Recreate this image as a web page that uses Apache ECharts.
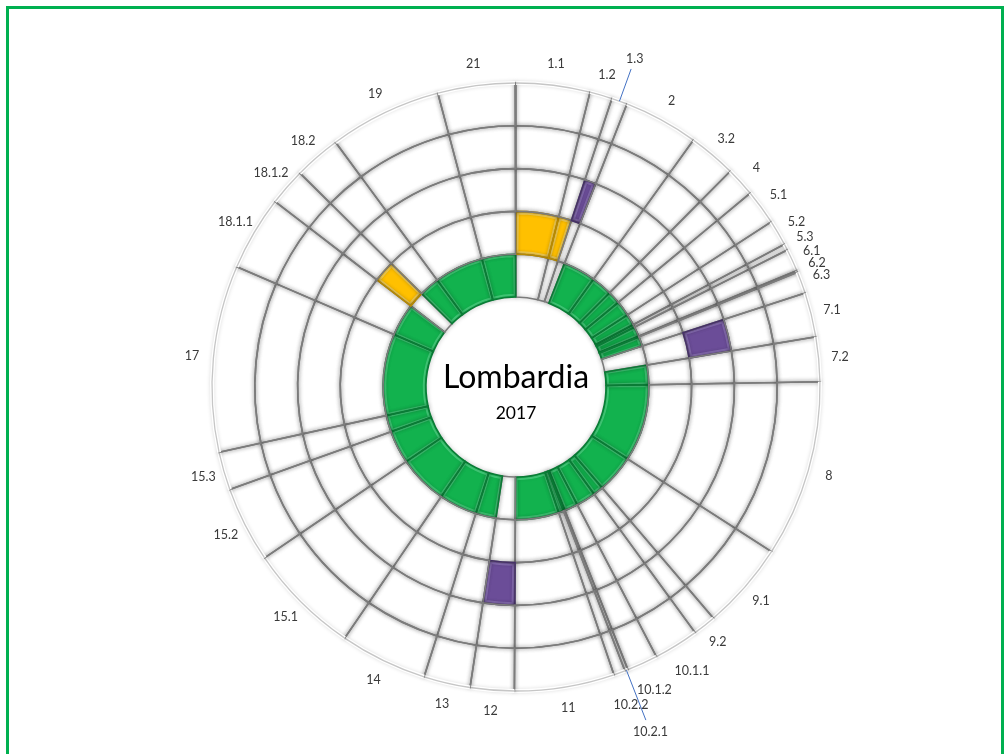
<!DOCTYPE html>
<html>
<head>
<meta charset="utf-8">
<script src="https://cdn.jsdelivr.net/npm/echarts@6/dist/echarts.min.js"></script>
<style>
  html, body { margin: 0; padding: 0; background: #ffffff; }
  #chart { width: 1006px; height: 754px; }
</style>
</head>
<body>
<div id="chart"></div>
<script>
// Sectors of the wheel, clockwise from twelve o'clock
const sectors = ['1.1', '1.2', '1.3', '2', '3.2', '4', '5.1', '5.2', '5.3', '6.1', '6.2', '6.3',
  '7.1', '7.2', '8', '9.1', '9.2', '10.1.1', '10.1.2', '10.2.1', '10.2.2', '11', '12', '13', '14',
  '15.1', '15.2', '15.3', '17', '18.1.1', '18.1.2', '18.2', '19', '21'];

// Angular share of each sector (degrees, summing to 360)
const sectorWidths = [14.1, 4.3, 3.0, 14.3, 9.1, 5.6, 6.7, 4.9, 1.2, 4.3, 0.3, 4.2,
  8.5, 8.5, 33.8, 16.7, 4.4, 8.6, 5.9, 0.6, 2.2, 19.1, 8.4, 8.9, 16.7,
  21.5, 14.5, 7.3, 35.7, 14.3, 7.1, 8.9, 21.5, 14.7];

// Cell state per ring, from the inner ring outwards: 0 empty, 1 green, 2 yellow, 3 purple
const ring1 = [0, 0, 0, 1, 1, 1, 1, 1, 1, 1, 1, 1, 0, 1, 1, 1, 1, 1, 1, 1, 1, 1, 0, 1, 1, 1, 1, 1, 1, 1, 0, 1, 1, 1];
const ring2 = [2, 2, 0, 0, 0, 0, 0, 0, 0, 0, 0, 0, 0, 0, 0, 0, 0, 0, 0, 0, 0, 0, 0, 0, 0, 0, 0, 0, 0, 0, 2, 0, 0, 0];
const ring3 = [0, 0, 3, 0, 0, 0, 0, 0, 0, 0, 0, 0, 3, 0, 0, 0, 0, 0, 0, 0, 0, 0, 3, 0, 0, 0, 0, 0, 0, 0, 0, 0, 0, 0];
const ring4 = [0, 0, 0, 0, 0, 0, 0, 0, 0, 0, 0, 0, 0, 0, 0, 0, 0, 0, 0, 0, 0, 0, 0, 0, 0, 0, 0, 0, 0, 0, 0, 0, 0, 0];
const ring5 = [0, 0, 0, 0, 0, 0, 0, 0, 0, 0, 0, 0, 0, 0, 0, 0, 0, 0, 0, 0, 0, 0, 0, 0, 0, 0, 0, 0, 0, 0, 0, 0, 0, 0];

const centerTitle = 'Lombardia';
const centerYear = '2017';

// ---- styling ----
const FILL = ['#ffffff', '#12B24E', '#FFC000', '#6B4D98'];
const LIGHT = [null, '#4FD585', '#FFDD6E', '#9479C0'];
const DARK = ['#7c7c7c', '#0A7C36', '#B88A00', '#463168'];
const RING_COUNT = 5;
const LABEL_R = 5.5;            // label distance in ring units
const labelRadius = { '1.3': 6.05, '10.1.1': 5.7, '10.1.2': 5.68, '10.2.2': 5.79, '10.2.1': 6.55 };
const leaders = { '1.3': [5.0, 5.8], '10.2.1': [5.0, 6.25] };

// ---- layout derived from the widths ----
const starts = [];
let acc = 0;
sectorWidths.forEach(w => { starts.push(acc); acc += w; });
const rings = [ring1, ring2, ring3, ring4, ring5];
const cells = [];
rings.forEach((ring, r) => {
  ring.forEach((state, i) => cells.push([r, starts[i], starts[i] + sectorWidths[i], state]));
});
const labelData = sectors.map((name, i) => [i, starts[i] + sectorWidths[i] / 2]);

function sectorShape(params, api, r0v, r1v, a0, a1) {
  const p0 = api.coord([r0v, a0]);
  const p1 = api.coord([r1v, a1]);
  return {
    cx: params.coordSys.cx, cy: params.coordSys.cy,
    r0: p0[2], r: p1[2],
    startAngle: -p0[3], endAngle: -p1[3], clockwise: true
  };
}

const chart = echarts.init(document.getElementById('chart'), null, { renderer: 'canvas' });

chart.setOption({
  backgroundColor: '#ffffff',
  animation: false,
  polar: { center: [516, 387], radius: [90, 90 + 7 * 42.8] },
  angleAxis: { type: 'value', min: 0, max: 360, startAngle: 90, clockwise: true, show: false },
  radiusAxis: { type: 'value', min: 0, max: 7, show: false },
  graphic: [
    { type: 'rect', left: 5, top: 5, shape: { x: 0, y: 0, width: 995, height: 800 },
      style: { fill: 'none', stroke: '#00B050', lineWidth: 3 }, silent: true },
    { type: 'text', x: 516, y: 378, z: 10,
      style: { text: centerTitle, fill: '#000000', font: '32px Lato', align: 'center', verticalAlign: 'middle' } },
    { type: 'text', x: 516, y: 413, z: 10,
      style: { text: centerYear, fill: '#000000', font: '17.5px Lato', align: 'center', verticalAlign: 'middle' } }
  ],
  series: [
    {
      // cell fills
      type: 'custom', coordinateSystem: 'polar', data: cells, z: 1,
      renderItem(params, api) {
        const r = api.value(0), a0 = api.value(1), a1 = api.value(2), s = api.value(3);
        const children = [{
          type: 'sector', shape: sectorShape(params, api, r, r + 1, a0, a1),
          style: { fill: FILL[s], stroke: null }
        }];
        if (s > 0) {
          const inset = Math.min(0.6, (a1 - a0) / 4);
          children.push({
            type: 'sector', shape: sectorShape(params, api, r + 0.05, r + 0.95, a0 + inset, a1 - inset),
            style: { fill: 'none', stroke: LIGHT[s], lineWidth: 2, opacity: 0.8 }
          });
        }
        return { type: 'group', children };
      }
    },
    {
      // cell outlines with a soft embossed edge
      type: 'custom', coordinateSystem: 'polar', data: cells, z: 2,
      renderItem(params, api) {
        const r = api.value(0), a0 = api.value(1), a1 = api.value(2), s = api.value(3);
        const children = [{
          type: 'sector', shape: sectorShape(params, api, r, r + 1, a0, a1),
          style: {
            fill: 'none', stroke: DARK[s], lineWidth: 1.6,
            shadowBlur: 4, shadowColor: 'rgba(0,0,0,0.35)'
          }
        }];
        if (r === RING_COUNT - 1) {
          // the outer rim is drawn lighter than the inner separators
          const rim = sectorShape(params, api, r + 1, r + 1, a0, a1);
          children.push({
            type: 'arc', shape: { cx: rim.cx, cy: rim.cy, r: rim.r, startAngle: rim.startAngle, endAngle: rim.endAngle, clockwise: true },
            style: { fill: 'none', stroke: '#ffffff', lineWidth: 4 }
          }, {
            type: 'arc', shape: { cx: rim.cx, cy: rim.cy, r: rim.r, startAngle: rim.startAngle, endAngle: rim.endAngle, clockwise: true },
            style: { fill: 'none', stroke: '#c6c6c6', lineWidth: 1.3 }
          });
        }
        return { type: 'group', children };
      }
    },
    {
      // sector labels and leader lines
      type: 'custom', coordinateSystem: 'polar', data: labelData, z: 3,
      renderItem(params, api) {
        const i = api.value(0), mid = api.value(1);
        const name = sectors[i];
        const rv = labelRadius[name] !== undefined ? labelRadius[name] : LABEL_R;
        const p = api.coord([rv, mid]);
        const children = [{
          type: 'text', x: p[0], y: p[1],
          style: { text: name, fill: '#3a3a3a', font: '12.5px Lato', align: 'center', verticalAlign: 'middle' }
        }];
        if (leaders[name]) {
          const q0 = api.coord([leaders[name][0], mid]);
          const q1 = api.coord([leaders[name][1], mid]);
          children.push({
            type: 'line', shape: { x1: q0[0], y1: q0[1], x2: q1[0], y2: q1[1] },
            style: { stroke: '#4472C4', lineWidth: 1 }
          });
        }
        return { type: 'group', children };
      }
    }
  ]
});
</script>
</body>
</html>
